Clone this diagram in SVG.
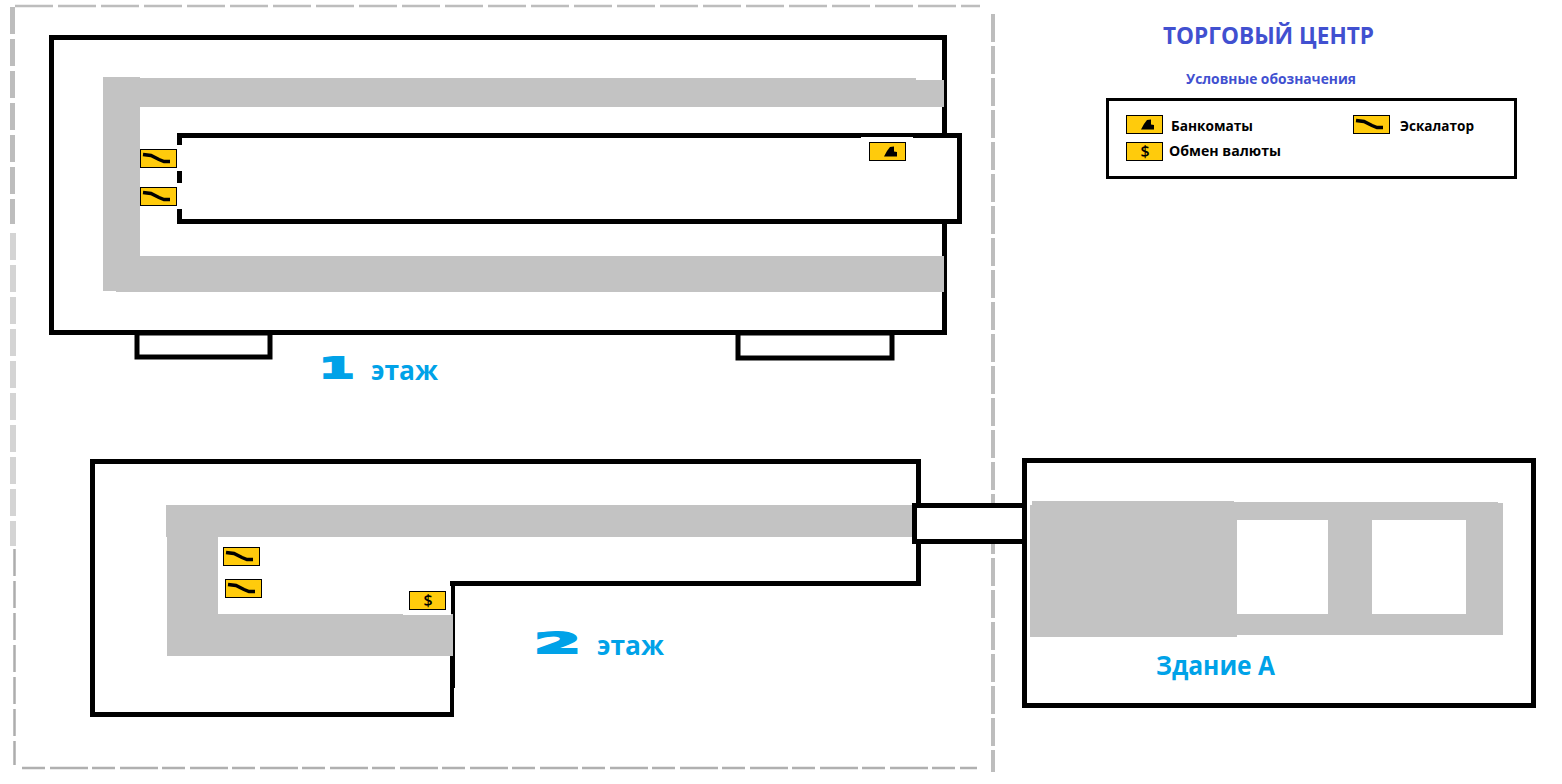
<svg xmlns="http://www.w3.org/2000/svg" width="1562" height="784" viewBox="0 0 1562 784">
<style>
.wall{fill:#fff;stroke:#000;stroke-width:5}
.walln{fill:none;stroke:#000;stroke-width:5}
.gray{fill:#c3c3c3}
.dash{fill:none;stroke:#bdbdbd}
.ic{fill:#ffcb0c;stroke:#000;stroke-width:1}
.gl{fill:none;stroke:#000;stroke-width:3.5}
text{font-family:"Open Sans","Noto Sans","Liberation Sans",sans-serif}
.leg{font-size:14px;font-weight:700;fill:#000}
.fl{font-size:27px;font-weight:700;fill:#00a2e8}
.num{font-family:"DejaVu Sans",sans-serif;font-weight:700;font-size:30px;fill:#00a2e8;stroke:#00a2e8;stroke-width:2}
</style>
<defs>
<g id="esc"><rect class="ic" x="0.5" y="0.5" width="36" height="18"/><path d="M3 5.500L11 6.500L19 10.500L24 12.500L30 12.500" class="gl"/></g>
<g id="atm"><rect class="ic" x="0.500" y="0.500" width="36" height="18"/><path d="M15 14.500L18 9L21 5L25 4.500L25 9.500L28 10L28 14.500Z" fill="#000"/></g>
<g id="cur"><rect class="ic" x="0.500" y="0.500" width="36" height="18"/><text x="19" y="15" text-anchor="middle" style="font-size:16px;font-weight:600;fill:#000">$</text></g>
</defs>
<rect width="1562" height="784" fill="#fff"/>
<g id="border">
<path class="dash" stroke-width="5" stroke-dasharray="27 5" d="M12.500 7V224"/>
<path fill="none" stroke="#d4d4d4" stroke-width="6" stroke-dasharray="27 5" d="M13 233V546"/>
<path fill="none" stroke="#adadad" stroke-width="2.500" stroke-dasharray="27 5" d="M14.500 549V765"/>
<path class="dash" stroke-width="2.500" stroke-dasharray="38 5" d="M15 6H980"/>
<path fill="none" stroke="#b0b0b0" stroke-width="2.500" stroke-dasharray="23 5 38 4" d="M22 768H977"/>
<path class="dash" stroke-width="4" stroke-dasharray="28 4" d="M993 14V772"/>
</g>
<g id="floor1">
<rect class="wall" x="137" y="333" width="133" height="24" stroke-width="4"/>
<rect class="wall" x="738" y="333" width="154" height="25" stroke-width="4"/>
<rect class="wall" x="51.500" y="37.500" width="893" height="295"/>
<path class="gray" d="M103 77H140V78H916V80H944V107H140V256H944V292H116V291H103Z"/>
<rect x="179" y="135" width="780" height="87" fill="#fff"/>
<path class="walln" d="M179.500 145V135.500H959.500V221.500H179.500V209M179.500 171V183"/>
<rect x="861" y="137" width="52" height="1.500" fill="#fff"/>
<use href="#esc" x="140" y="149"/>
<use href="#esc" x="140" y="187"/>
<use href="#atm" x="869" y="142"/>
<text class="num" transform="translate(319 378) scale(1.700 0.950)">1</text>
<text class="fl" x="371" y="380" textLength="67" lengthAdjust="spacingAndGlyphs">этаж</text>
</g>
<g id="floor2">
<path class="wall" d="M92.500 461.500H918.500V583.500H452.500V714.500H92.500Z"/>
<path class="gray" d="M166 505H914V537H218V614H453V656H167V537H166Z"/>
<rect x="403" y="586" width="48" height="29" fill="#fff"/>
<rect x="454" y="688" width="2" height="30" fill="#fff"/>
<use href="#esc" x="223" y="547"/>
<use href="#esc" x="225" y="579"/>
<use href="#cur" x="409" y="591"/>
<text class="num" transform="translate(534 653) scale(2.250 0.950)">2</text>
<text class="fl" x="597" y="655" textLength="67" lengthAdjust="spacingAndGlyphs">этаж</text>
</g>
<g id="bridge">
<rect class="wall" x="914.500" y="505.500" width="112" height="36"/>
</g>
<g id="buildingA">
<rect class="wall" x="1024.500" y="460.500" width="509" height="245"/>
<path class="gray" d="M1032 501H1234V502H1498V503H1503V635H1237V637H1030V505H1032Z"/>
<rect x="1237" y="520" width="91" height="94" fill="#fff"/>
<rect x="1372" y="520" width="94" height="94" fill="#fff"/>
<text class="fl" x="1156" y="675" textLength="119" lengthAdjust="spacingAndGlyphs">Здание А</text>
</g>
<g id="legend">
<text x="1163" y="44" textLength="211" lengthAdjust="spacingAndGlyphs" style="font-size:22.500px;font-weight:700;fill:#4150d0">ТОРГОВЫЙ ЦЕНТР</text>
<text x="1186" y="84" textLength="170" lengthAdjust="spacingAndGlyphs" style="font-size:14px;font-weight:700;fill:#4150d0">Условные обозначения</text>
<rect x="1107.500" y="99.500" width="408" height="78" fill="#fff" stroke="#000" stroke-width="3"/>
<use href="#atm" x="1126" y="115"/>
<use href="#cur" x="1126" y="142"/>
<use href="#esc" x="1353" y="115"/>
<text class="leg" x="1171" y="131" textLength="82" lengthAdjust="spacingAndGlyphs">Банкоматы</text>
<text class="leg" x="1169" y="156" textLength="112" lengthAdjust="spacingAndGlyphs">Обмен валюты</text>
<text class="leg" x="1400" y="131" textLength="74" lengthAdjust="spacingAndGlyphs">Эскалатор</text>
</g>
</svg>
